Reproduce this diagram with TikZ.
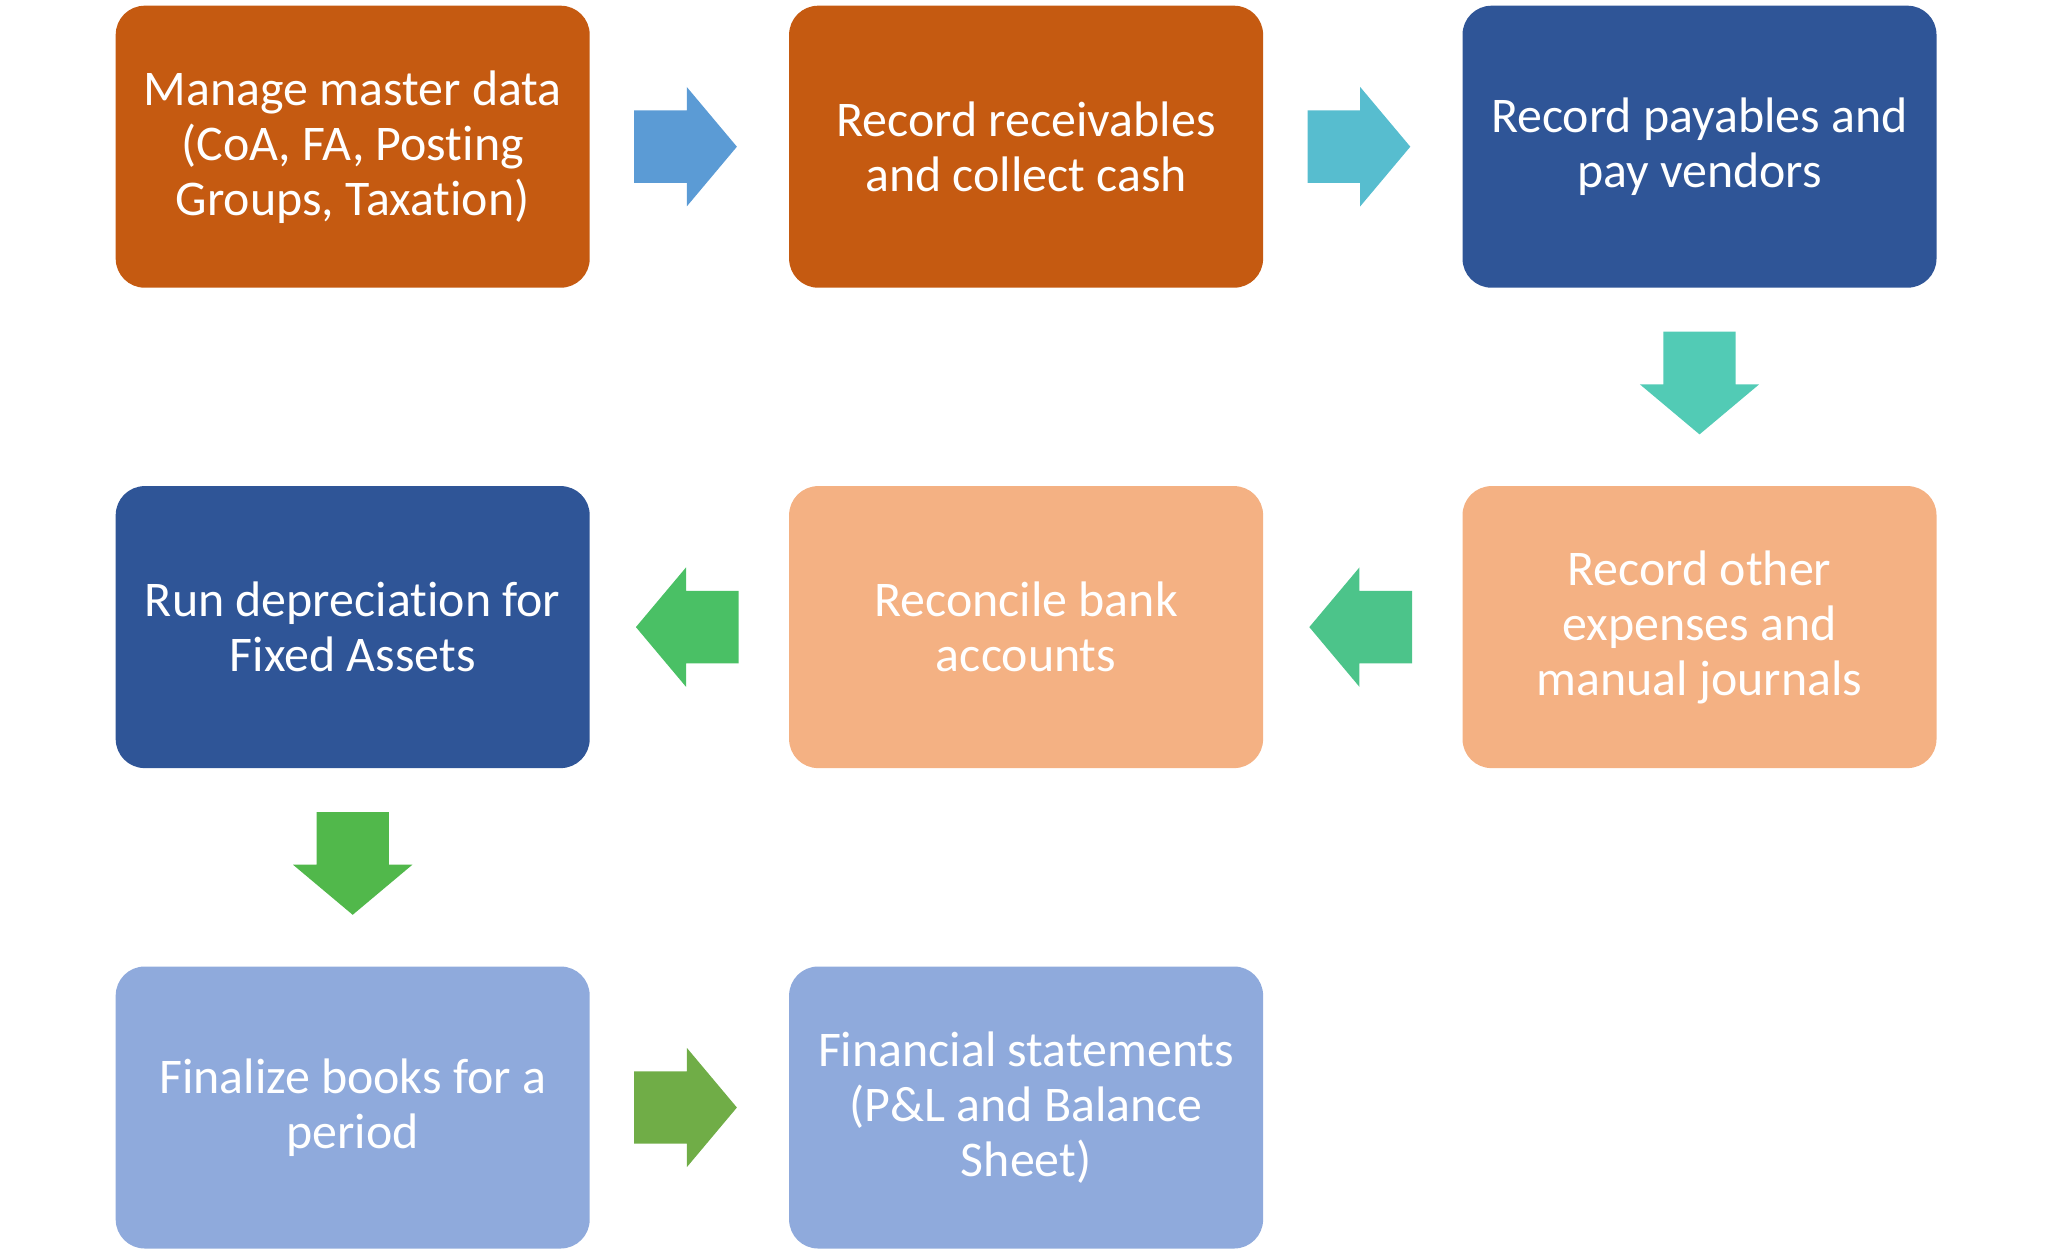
\documentclass[tikz,border=0pt]{standalone}
\usepackage{fontspec}
\setmainfont{Carlito}[Ligatures=CommonOff]
\usetikzlibrary{positioning,shapes.arrows,calc}
\definecolor{rust}{HTML}{C55A11}
\definecolor{navy}{HTML}{2F5597}
\definecolor{peach}{HTML}{F4B183}
\definecolor{lilac}{HTML}{8FAADC}
\definecolor{arrA}{HTML}{5B9BD5}
\definecolor{arrB}{HTML}{57BDCF}
\definecolor{arrC}{HTML}{52CBB5}
\definecolor{arrD}{HTML}{4CC48A}
\definecolor{arrE}{HTML}{4AC065}
\definecolor{arrF}{HTML}{51B84B}
\definecolor{arrG}{HTML}{70AD47}
\tikzset{
    stage/.style={rectangle, rounded corners=0.29cm, fill=#1, text=white,
        minimum width=4.74cm, minimum height=2.82cm, inner sep=0, align=center,
        font=\fontsize{14.2}{15.65}\selectfont},
    flow/.style={single arrow, fill=#1, draw=none, inner sep=0.355cm,
        minimum height=1.01cm, anchor=tail,
        single arrow head extend=0.235cm, single arrow tip angle=100},
  }

\begin{document}
\begin{tikzpicture}[node distance=1.97cm and 1.98cm]
      \useasboundingbox (0,0) rectangle (20.48,-12.53);
      % first row
      \node (md) [stage=rust, anchor=north west] at (1.15,-0.05)
            {Manage master data\\(CoA, FA, Posting\\Groups, Taxation)};
      \node (ar) [stage=rust, right=of md] {Record receivables\\and collect cash};
      \node (ap) [stage=navy, right=of ar] {Record payables and\\pay vendors};
      % second row
      \node (oe) [stage=peach, below=of ap] {Record other\\expenses and\\manual journals};
      \node (rb) [stage=peach, left=of oe] {Reconcile bank\\accounts};
      \node (fa) [stage=navy, left=of rb] {Run depreciation for\\Fixed Assets};
      % third row
      \node (fb) [stage=lilac, below=of fa] {Finalize books for a\\period};
      \node (fs) [stage=lilac, right=of fb] {Financial statements\\(P\&L and Balance\\Sheet)};

      % block arrows, tail about half a length back from the middle of each gap
      \node (f1) [flow=arrA] at ($(md.east)!0.5!(ar.west)!0.56cm!(md.east)$) {};
      \node (f2) [flow=arrB] at ($(ar.east)!0.5!(ap.west)!0.56cm!(ar.east)$) {};
      \node (f3) [flow=arrC, shape border rotate=270] at ($(ap.south)!0.5!(oe.north)!0.56cm!(ap.south)$) {};
      \node (f4) [flow=arrD, shape border rotate=180] at ($(oe.west)!0.5!(rb.east)!0.5cm!(oe.west)$) {};
      \node (f5) [flow=arrE, shape border rotate=180] at ($(rb.west)!0.5!(fa.east)!0.5cm!(rb.west)$) {};
      \node (f6) [flow=arrF, shape border rotate=270] at ($(fa.south)!0.5!(fb.north)!0.56cm!(fa.south)$) {};
      \node (f7) [flow=arrG] at ($(fb.east)!0.5!(fs.west)!0.56cm!(fb.east)$) {};
\end{tikzpicture}
\end{document}
